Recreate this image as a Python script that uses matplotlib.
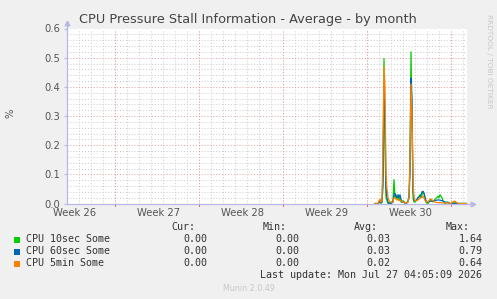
import matplotlib
matplotlib.use("Agg")
import matplotlib.pyplot as plt

# ---------------- data ----------------
title = "CPU Pressure Stall Information - Average - by month"
series_names = ["CPU 10sec Some", "CPU 60sec Some", "CPU 5min Some"]
series_colors = ["#00CC00", "#0066B3", "#FF8000"]
week_labels = ["Week 26", "Week 27", "Week 28", "Week 29", "Week 30"]
cur_vals = ["0.00", "0.00", "0.00"]
min_vals = ["0.00", "0.00", "0.00"]
avg_vals = ["0.03", "0.03", "0.02"]
max_vals = ["1.64", "0.79", "0.64"]
last_update = "Last update: Mon Jul 27 04:05:09 2026"
version = "Munin 2.0.49"

# hours since graph start
hours = [618, 624, 626, 628, 630, 632, 634, 636, 638, 640, 642, 644, 646, 648, 650,
         654, 656, 658, 660, 662, 664, 666, 668, 670, 672, 674, 676, 678, 680,
         684, 686, 688, 690, 692, 694, 696, 698, 700, 702, 704, 706, 708, 710,
         712, 714, 716, 718, 720, 722, 724, 726, 728, 730, 732, 734, 738, 742,
         744, 746, 748, 750, 752, 754, 758, 762, 764, 766, 768, 774, 776, 778,
         782, 788, 798, 802]
cpu10 = [0, 0, 0.005, 0.01, 0, 0.005, 0.12, 0.497, 0.2, 0.02, 0.01, 0, 0, 0.005, 0,
         0.01, 0.082, 0.02, 0.03, 0.015, 0.025, 0.01, 0.02, 0.005, 0.005, 0.01, 0.005, 0, 0,
         0.01, 0.03, 0.15, 0.52, 0.3, 0.02, 0.005, 0.005, 0.01, 0.01, 0.02, 0.025, 0.03, 0.02,
         0.03, 0.04, 0.035, 0.02, 0.005, 0, 0, 0.005, 0.01, 0.015, 0.01, 0.005, 0.015, 0.02,
         0.025, 0.02, 0.03, 0.025, 0.02, 0.01, 0, 0.005, 0.005, 0, 0, 0, 0.005, 0.005,
         0, 0, 0, 0]
cpu60 = [0, 0, 0.003, 0.005, 0.003, 0.005, 0.06, 0.40, 0.3, 0.05, 0.02, 0.005, 0, 0, 0,
         0.005, 0.03, 0.035, 0.025, 0.02, 0.03, 0.02, 0.03, 0.015, 0.005, 0.005, 0.005, 0.003, 0,
         0.005, 0.02, 0.1, 0.43, 0.35, 0.05, 0.01, 0.01, 0.01, 0.015, 0.02, 0.022, 0.025, 0.03,
         0.04, 0.042, 0.035, 0.02, 0.01, 0.005, 0.005, 0.006, 0.008, 0.008, 0.008, 0.008, 0.01, 0.012,
         0.012, 0.012, 0.012, 0.01, 0.01, 0.008, 0.005, 0.003, 0.003, 0.002, 0, 0, 0, 0,
         0, 0, 0, 0]
cpu5m = [0, 0, 0.01, 0.015, 0.005, 0.01, 0.2, 0.47, 0.4, 0.1, 0.05, 0.02, 0.01, 0.005, 0.005,
         0.005, 0.02, 0.02, 0.015, 0.012, 0.015, 0.01, 0.012, 0.01, 0.008, 0.005, 0.004, 0.003, 0.002,
         0.005, 0.02, 0.15, 0.41, 0.3, 0.08, 0.02, 0.01, 0.01, 0.01, 0.012, 0.015, 0.018, 0.02,
         0.02, 0.025, 0.02, 0.01, 0.008, 0.005, 0.005, 0.01, 0.015, 0.015, 0.012, 0.01, 0.005, 0.003,
         0.003, 0.003, 0.003, 0.003, 0.002, 0.002, 0.002, 0.002, 0.002, 0.001, 0, 0.005, 0.008, 0.008,
         0.002, 0, 0, 0]
series = [cpu10, cpu60, cpu5m]

# ---------------- layout ----------------
W, H = 497, 299
fig = plt.figure(figsize=(W / 100, H / 100), dpi=100)
fig.patch.set_facecolor("#F0F0F0")

x0, x1 = 2, 802
ax_left, ax_right, ax_top, ax_bot = 67, 467, 28.5, 203.5
ax = fig.add_axes([ax_left / W, (H - ax_bot) / H, (ax_right - ax_left) / W, (ax_bot - ax_top) / H])
ax.set_facecolor("white")
ax.set_xlim(x0, x1)
ax.set_ylim(0, 0.6)

# grid
minor_col = "#CACACA"
major_col = "#E89A9A"
for h in range(x0, x1 + 1, 24):
    ax.axvline(h, color=minor_col, lw=0.7, ls=(0, (1, 2)), zorder=0)
for i in range(1, 31):
    if i % 5:
        ax.axhline(i * 0.02, color=minor_col, lw=0.7, ls=(0, (1, 2)), zorder=0)
for i in range(1, 7):
    ax.axhline(i * 0.1, color=major_col, lw=0.7, ls=(0, (1, 2)), zorder=0.5)
week_starts = [98 + 168 * k for k in range(5)]
for h in week_starts:
    ax.axvline(h, color=major_col, lw=0.7, ls=(0, (1, 2)), zorder=0.5)

# data lines
for vals, col in zip(series, series_colors):
    ax.plot(hours, vals, color=col, lw=0.9, zorder=3)

# axes styling
axis_col = "#B8B8E8"
for s in ["top", "right"]:
    ax.spines[s].set_visible(False)
for s in ["left", "bottom"]:
    ax.spines[s].set_color(axis_col)
    ax.spines[s].set_linewidth(0.9)
    ax.spines[s].set_zorder(4)
ax.plot([1.0, 1.015], [0, 0], color=axis_col, lw=0.9, transform=ax.transAxes, clip_on=False)
ax.plot([0, 0], [1.0, 1.03], color=axis_col, lw=0.9, transform=ax.transAxes, clip_on=False)
ax.plot([1.015], [0], marker=">", ms=3.3, color=axis_col, transform=ax.transAxes, clip_on=False)
ax.plot([0], [1.03], marker="^", ms=3.3, color=axis_col, transform=ax.transAxes, clip_on=False)

label_pos = [16.4 + 168 * k for k in range(5)]
ax.set_xticks(label_pos, week_labels)
ax.tick_params(axis="x", length=0, pad=3.2, labelsize=7.2, labelcolor="#555555")
ax.set_yticks([0.0, 0.1, 0.2, 0.3, 0.4, 0.5, 0.6], ["0.0", "0.1", "0.2", "0.3", "0.4", "0.5", "0.6"])
ax.tick_params(axis="y", length=2, color=axis_col, pad=3, labelsize=7.2, labelcolor="#555555")
for h in week_starts:
    ax.plot([h, h], [0, -0.009], color="#E06060", lw=0.7, clip_on=False, zorder=4)

fig.text(10 / W, 1 - 113 / H, "%", rotation=90, fontsize=7.2, color="#555555",
         ha="center", va="center")
fig.text(248 / W, 1 - 19 / H, title, fontsize=9.3, color="#444444", ha="center", va="center")
fig.text(489 / W, 1 - 14 / H, "RRDTOOL / TOBI OETIKER", rotation=270, fontsize=5.3,
         color="#C8C8C8", ha="center", va="top")

# legend
mono = "DejaVu Sans Mono"
fs = 7.2
tcol = "#333333"
def ty(y):
    return 1 - y / H
for xr, hdr in zip([195, 287, 378, 470], ["Cur:", "Min:", "Avg:", "Max:"]):
    fig.text(xr / W, ty(227.5), hdr, family=mono, fontsize=fs, color=tcol, ha="right", va="center")
rows_y = [239.5, 251.5, 263.5]
for i, y in enumerate(rows_y):
    fig.patches.append(plt.Rectangle((14 / W, ty(y + 3)), 6 / W, 6 / H, transform=fig.transFigure,
                                     color=series_colors[i], lw=0))
    fig.text(26 / W, ty(y), series_names[i], family=mono, fontsize=fs, color=tcol, ha="left", va="center")
    for xr, vals in zip([207.5, 299, 390, 482.5], [cur_vals, min_vals, avg_vals, max_vals]):
        fig.text(xr / W, ty(y), vals[i], family=mono, fontsize=fs, color=tcol, ha="right", va="center")
fig.text(482.5 / W, ty(275.5), last_update, family=mono, fontsize=fs, color=tcol, ha="right", va="center")
fig.text(248.5 / W, ty(288.5), version, fontsize=5.8, color="#C8C8C8", ha="center", va="center")

fig.savefig("out.png", dpi=100, facecolor=fig.get_facecolor())
